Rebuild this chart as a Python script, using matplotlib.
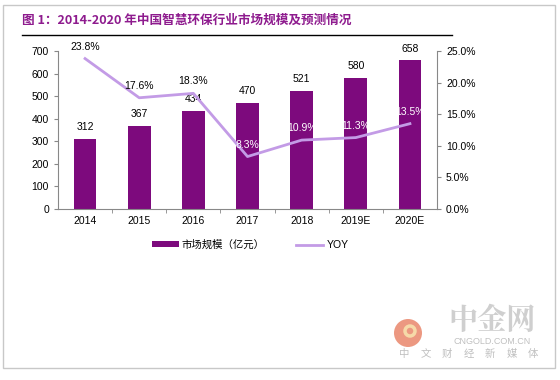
import matplotlib
matplotlib.use("Agg")
import matplotlib.pyplot as plt
from matplotlib.patches import Rectangle, Ellipse
from matplotlib.lines import Line2D

plt.rcParams['font.family'] = ['Liberation Sans', 'Noto Sans CJK SC', 'DejaVu Sans']

# data
years = ["2014", "2015", "2016", "2017", "2018", "2019E", "2020E"]
market_size = [312, 367, 434, 470, 521, 580, 658]
yoy = [23.8, 17.6, 18.3, 8.3, 10.9, 11.3, 13.5]
yoy_labels = ["23.8%", "17.6%", "18.3%", "8.3%", "10.9%", "11.3%", "13.5%"]

bar_color = "#7d0a7d"
line_color = "#c39be6"
title_color = "#8e1b8e"


def main():
    fig = plt.figure(figsize=(5.6, 3.8), dpi=100)

    # outer gray frame
    fig.patches.append(Rectangle((3 / 560, 1 - 368 / 380), 552 / 560, 363 / 380,
                                 transform=fig.transFigure, fill=False,
                                 edgecolor="#c8c8c8", linewidth=1.0))

    # title and rule
    fig.text(22 / 560, 1 - 20 / 380, "图 1：2014-2020 年中国智慧环保行业市场规模及预测情况",
             family=['Noto Sans CJK SC', 'DejaVu Sans'], fontsize=9.1, fontweight="heavy",
             color=title_color, va="center", ha="left")
    fig.add_artist(Line2D([22 / 560, 452 / 560], [1 - 35 / 380, 1 - 35 / 380],
                          transform=fig.transFigure, color="black", linewidth=1.0))

    ax1 = fig.add_axes([58 / 560, 1 - 209 / 380, 379 / 560, 158 / 380])
    x = list(range(len(years)))
    ax1.bar(x, market_size, width=0.42, color=bar_color, label="市场规模（亿元）", zorder=2)
    ax1.set_xlim(-0.5, len(years) - 0.5)
    ax1.set_ylim(0, 700)
    ax1.set_yticks(range(0, 701, 100))
    ax1.set_xticks(x)
    ax1.set_xticklabels(years)
    ax1.set_xticks([i + 0.5 for i in x[:-1]], minor=True)
    ax1.tick_params(axis="x", which="major", length=0, labelsize=7.5, pad=5)
    ax1.tick_params(axis="x", which="minor", length=3, direction="out", color="#888888")
    ax1.tick_params(axis="y", length=3, direction="out", labelsize=7.5, color="#888888")
    for side in ["top", "right"]:
        ax1.spines[side].set_visible(False)
    ax1.spines["left"].set_color("#888888")
    ax1.spines["bottom"].set_color("#888888")
    ax1.patch.set_visible(False)

    for xi, v in zip(x, market_size):
        ax1.annotate(str(v), (xi, v), xytext=(0, 5), textcoords="offset points",
                     ha="center", va="bottom", fontsize=7.5)

    ax2 = ax1.twinx()
    ax2.plot(x, yoy, color=line_color, linewidth=2, label="YOY", zorder=3)
    ax2.set_ylim(0, 25)
    ax2.set_yticks(range(0, 26, 5))
    ax2.set_yticklabels([f"{t:.1f}%" for t in range(0, 26, 5)])
    ax2.tick_params(axis="y", length=3, direction="out", labelsize=7.5, color="#888888")
    for side in ["top", "left", "bottom"]:
        ax2.spines[side].set_visible(False)
    ax2.spines["right"].set_color("#888888")

    for xi, v, lab in zip(x, yoy, yoy_labels):
        c = "black" if xi < 3 else "white"
        ax2.annotate(lab, (xi, v), xytext=(0, 5), textcoords="offset points",
                     ha="center", va="bottom", fontsize=7.5, color=c)

    h1, l1 = ax1.get_legend_handles_labels()
    h2, l2 = ax2.get_legend_handles_labels()
    fig.legend(h1 + h2, l1 + l2, loc="center", bbox_to_anchor=(250 / 560, 1 - 245 / 380),
               ncol=2, frameon=False, handlelength=2.6, handleheight=0.5,
               columnspacing=3, handletextpad=0.3,
               prop={'family': ['Liberation Sans', 'Noto Sans CJK SC'], 'size': 7.5})

    # watermark
    fig.patches.append(Ellipse((408 / 560, 1 - 333 / 380), 28 / 560, 28 / 380,
                               transform=fig.transFigure, facecolor="#e9866b",
                               edgecolor="none", alpha=0.85))
    fig.patches.append(Ellipse((410 / 560, 1 - 331 / 380), 10 / 560, 10 / 380,
                               transform=fig.transFigure, facecolor="none",
                               edgecolor="#f6d9a8", linewidth=2.5))
    fig.text(492 / 560, 1 - 321 / 380, "中金网", family=['Noto Serif CJK SC', 'Noto Sans CJK SC'],
             fontsize=21, fontweight="bold", color="#cfcfcf", ha="center", va="center")
    fig.text(492 / 560, 1 - 342 / 380, "CNGOLD.COM.CN", fontsize=6.5, color="#c0c0c0",
             ha="center", va="center")
    for i, ch in enumerate("中文财经新媒体"):
        fig.text((404 + i * 21.5) / 560, 1 - 354 / 380, ch, family=['Noto Sans CJK SC'],
                 fontsize=7.5, color="#c0c0c0", ha="center", va="center")

    fig.savefig("out.png", dpi=100)


if __name__ == "__main__":
    main()
